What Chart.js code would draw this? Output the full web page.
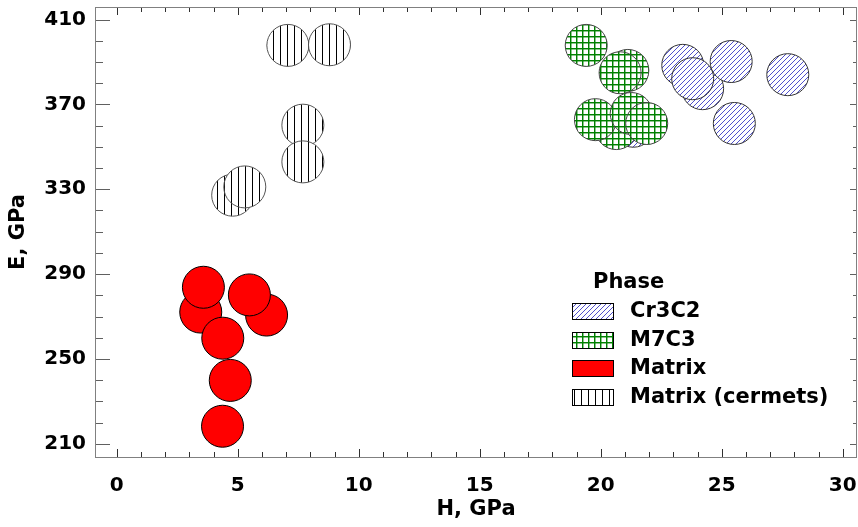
<!DOCTYPE html>
<html>
<head>
<meta charset="utf-8">
<script src="https://cdn.jsdelivr.net/npm/chart.js@4.4.1/dist/chart.umd.min.js"></script>
<style>
  html, body { margin: 0; padding: 0; background: #ffffff; }
  #wrap { width: 858px; height: 527px; }
</style>
</head>
<body>
<div id="wrap"><canvas id="c" width="858" height="527"></canvas></div>
<script>
// ---- Data (H, GPa vs E, GPa) ----
const seriesNames = ["Cr3C2", "M7C3", "Matrix", "Matrix (cermets)"];

const hCr3C2 = [21.35, 24.21, 23.39, 23.80, 25.39, 27.73, 25.52];
const eCr3C2 = [359.7, 377.4, 388.4, 382.1, 390.2, 384.0, 361.0];

const hM7C3 = [19.40, 21.12, 20.80, 20.64, 19.78, 21.26, 21.90];
const eM7C3 = [397.8, 386.0, 384.9, 358.6, 362.8, 365.7, 361.0];

const hMatrix = [3.47, 6.19, 3.58, 5.48, 4.38, 4.69, 4.37];
const eMatrix = [272.1, 270.7, 283.8, 280.2, 259.8, 239.9, 218.3];

const hCermets = [7.07, 8.79, 7.69, 7.69, 4.79, 5.29];
const eCermets = [397.8, 398.1, 360.2, 342.9, 327.2, 331.1];

const xTickStep = 5;
const yTickValues = [210, 250, 290, 330, 370, 410];

// ---- Patterns ----
function makePattern(size, draw) {
  const c = document.createElement('canvas');
  c.width = size; c.height = size;
  const g = c.getContext('2d');
  g.fillStyle = '#ffffff';
  g.fillRect(0, 0, size, size);
  draw(g, size);
  return document.getElementById('c').getContext('2d').createPattern(c, 'repeat');
}
const patDiag = makePattern(5, (g, s) => {
  g.fillStyle = 'rgb(80,80,205)';
  for (let i = 0; i < s; i++) g.fillRect(i, s - 1 - i, 1, 1);
});
const patGrid = makePattern(6, (g, s) => {
  g.fillStyle = 'rgba(0,128,0,0.45)';
  g.fillRect(1, 0, 1, s);
  g.fillRect(0, 1, s, 1);
  g.fillStyle = '#008000';
  g.fillRect(0, 0, 1, s);
  g.fillRect(0, 0, s, 1);
});
const patVert = makePattern(7, (g, s) => {
  g.fillStyle = '#000000';
  g.fillRect(0, 0, 1, s);
});

const fills = {
  "Cr3C2": patDiag,
  "M7C3": patGrid,
  "Matrix": '#ff0000',
  "Matrix (cermets)": patVert
};
const borders = {
  "Cr3C2": '#333333',
  "M7C3": '#444444',
  "Matrix": '#000000',
  "Matrix (cermets)": '#555555'
};

function pts(hs, es) { return hs.map((h, i) => ({ x: h, y: es[i] })); }

function ds(name, hs, es) {
  return {
    label: name,
    data: pts(hs, es),
    pointRadius: 21,
    pointHoverRadius: 21,
    pointBorderWidth: 1,
    pointBackgroundColor: fills[name],
    pointBorderColor: borders[name],
    backgroundColor: fills[name],
    borderColor: borders[name],
    showLine: false
  };
}

const FONT = "'DejaVu Sans', sans-serif";

// Frame + inward ticks on all four sides
const framePlugin = {
  id: 'frame',
  afterDraw(chart) {
    const { ctx, chartArea: a, scales } = chart;
    const xs = scales.x, ys = scales.y;
    ctx.save();
    ctx.lineWidth = 1;
    ctx.strokeStyle = '#303030';
    for (let v = 0; v <= 30; v++) {
      const px = Math.round(xs.getPixelForValue(v)) + 0.5;
      const major = v % xTickStep === 0;
      const len = major ? 8 : 5;
      ctx.beginPath();
      ctx.moveTo(px, a.bottom); ctx.lineTo(px, a.bottom - len);
      ctx.moveTo(px, a.top); ctx.lineTo(px, a.top + len);
      ctx.stroke();
    }
    ctx.strokeStyle = '#606060';
    for (let v = 210; v <= 410; v += 10) {
      const py = Math.round(ys.getPixelForValue(v)) + 0.5;
      const major = yTickValues.includes(v);
      const lenL = major ? 15 : 8;
      const lenR = major ? 7 : 4;
      ctx.beginPath();
      ctx.moveTo(a.left, py); ctx.lineTo(a.left + lenL, py);
      ctx.moveTo(a.right, py); ctx.lineTo(a.right - lenR, py);
      ctx.stroke();
    }
    ctx.strokeStyle = '#808080';
    ctx.strokeRect(a.left + 0.5, a.top + 0.5, a.right - a.left - 1, a.bottom - a.top);
    ctx.restore();
  }
};

// Legend with title "Phase"
const legendPlugin = {
  id: 'phaseLegend',
  afterDraw(chart) {
    const { ctx } = chart;
    ctx.save();
    ctx.fillStyle = '#000';
    ctx.font = "bold 21px " + FONT;
    ctx.textBaseline = 'middle';
    ctx.textAlign = 'left';
    ctx.fillText('Phase', 593, 283);
    const rowY = [311, 340, 368, 397];
    seriesNames.forEach((name, i) => {
      const cy = rowY[i];
      ctx.fillStyle = fills[name];
      ctx.fillRect(572, cy - 8, 42, 17);
      ctx.strokeStyle = '#000';
      ctx.lineWidth = 1;
      ctx.strokeRect(572.5, cy - 7.5, 41, 16);
      ctx.fillStyle = '#000';
      ctx.fillText(name, 630, cy + 1);
    });
    ctx.restore();
  }
};

function zeroPad(s) {
  s.paddingLeft = 0; s.paddingRight = 0; s.paddingTop = 0; s.paddingBottom = 0;
}

new Chart(document.getElementById('c'), {
  type: 'scatter',
  data: {
    datasets: [
      ds("M7C3", hM7C3, eM7C3),
      ds("Cr3C2", hCr3C2, eCr3C2),
      ds("Matrix", hMatrix, eMatrix),
      ds("Matrix (cermets)", hCermets, eCermets)
    ]
  },
  options: {
    responsive: false,
    animation: false,
    devicePixelRatio: 1,
    layout: { autoPadding: false, padding: { top: 7, right: 1, left: 0, bottom: 0 } },
    plugins: {
      legend: { display: false },
      tooltip: { enabled: false }
    },
    scales: {
      x: {
        type: 'linear',
        min: -0.9,
        max: 30.59,
        afterFit(s) { s.height = 70; zeroPad(s); },
        afterBuildTicks(s) {
          const t = [];
          for (let v = 0; v <= 30; v += xTickStep) t.push({ value: v });
          s.ticks = t;
        },
        grid: { display: false, drawTicks: false },
        border: { display: false },
        ticks: {
          padding: 17,
          color: '#000',
          font: { family: FONT, size: 20, weight: 'bold' },
          maxRotation: 0,
          autoSkip: false
        },
        title: {
          display: true,
          text: 'H, GPa',
          color: '#000',
          font: { family: FONT, size: 21, weight: 'bold' },
          padding: { top: 0, bottom: 5 }
        }
      },
      y: {
        type: 'linear',
        min: 203.8,
        max: 415.9,
        afterFit(s) { s.width = 95; zeroPad(s); },
        afterBuildTicks(s) { s.ticks = yTickValues.map(v => ({ value: v })); },
        grid: { display: false, drawTicks: false },
        border: { display: false },
        ticks: {
          padding: 9,
          color: '#000',
          font: { family: FONT, size: 20, weight: 'bold' },
          autoSkip: false
        },
        title: {
          display: true,
          text: 'E, GPa',
          color: '#000',
          font: { family: FONT, size: 21, weight: 'bold' },
          padding: { top: 6, bottom: 0 }
        }
      }
    }
  },
  plugins: [framePlugin, legendPlugin]
});
</script>
</body>
</html>
